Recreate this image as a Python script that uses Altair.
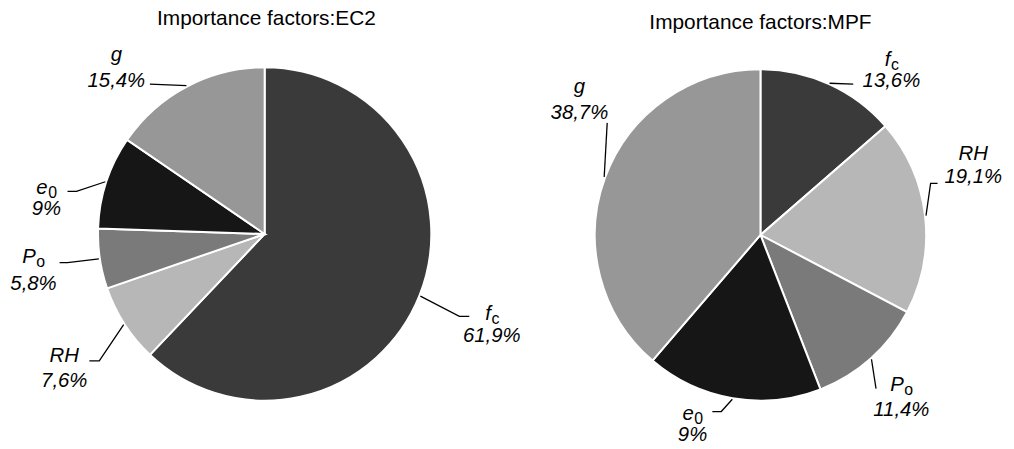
import math
import altair as alt
import pandas as pd

# ---------------- data ----------------
factors = ["fc", "RH", "Po", "e0", "g"]
symbol_main = ["f", "RH", "P", "e", "g"]
symbol_sub = ["c", "", "o", "0", ""]
ec2_values = [61.9, 7.6, 5.8, 9.0, 15.4]
mpf_values = [13.6, 19.1, 11.4, 17.2, 38.7]   # slice sizes as drawn
ec2_labels = ["61,9%", "7,6%", "5,8%", "9%", "15,4%"]
mpf_labels = ["13,6%", "19,1%", "11,4%", "9%", "38,7%"]
titles = ["Importance factors:EC2", "Importance factors:MPF"]
slice_colors = ["#3a3a3a", "#b7b7b7", "#7a7a7a", "#161616", "#979797"]

# ---------------- layout ----------------
W, H = 1006, 441
FONT = "Liberation Sans"
LABEL_SIZE = 20.5
SUB_SIZE = 16
TITLE_SIZE = 21
glyph_em = {"f": 0.30, "P": 0.667, "e": 0.556, "c": 0.5, "o": 0.556, "0": 0.556}

# per label: (label centre x, baseline line1, baseline line2, elbow, tail) relative to pie centre
pies = [
    dict(values=ec2_values, labels=ec2_labels, cx=258.7, cy=226.0, r=167, tx=260.5, ty=15.0,
         place={
             "fc": (229.0, 87.0, 108.7, (196.3, 83.0), (206.3, 83.0)),
             "RH": (-202.0, 129.0, 154.0, (-166.7, 128.0), (-176.7, 128.0)),
             "Po": (-233.0, 29.0, 56.0, (-198.7, 29.0), (-206.7, 29.0)),
             "e0": (-220.0, -40.7, -19.0, (-189.7, -43.0), (-198.7, -43.0)),
             "g": (-149.5, -174.7, -148.0, (-115.7, -151.0), (-115.7, -151.0)),
         }),
    dict(values=mpf_values, labels=mpf_labels, cx=758.5, cy=227.0, r=166, tx=758.5, ty=19.3,
         place={
             "fc": (132.0, -170.0, -149.0, (93.5, -152.0), (93.5, -152.0)),
             "RH": (214.5, -76.0, -52.0, (171.5, -52.0), (178.5, -52.0)),
             "Po": (142.0, 157.0, 182.0, (116.5, 155.0), (116.5, 155.0)),
             "e0": (-68.5, 187.0, 208.0, (-39.5, 178.0), (-48.5, 178.0)),
             "g": (-182.5, -143.4, -117.0, (-154.5, -113.0), (-154.5, -113.0)),
         }),
]

slice_rows, line_rows, pct_rows, sym_rows, title_rows = [], [], [], [], []
for p_i, pie in enumerate(pies):
    total = sum(pie["values"])
    acc = 0.0
    for f, v, lab, m, s in zip(factors, pie["values"], pie["labels"], symbol_main, symbol_sub):
        t0 = acc / total
        acc += v
        t1 = acc / total
        slice_rows.append(dict(pie=p_i, factor=f, t0=t0, t1=t1, x=pie["cx"], y=pie["cy"]))
        lcx, b1, b2, elbow, tail = pie["place"][f]
        mid = 2 * math.pi * (t0 + t1) / 2
        rs = pie["r"] + 2
        sx = pie["cx"] + rs * math.sin(mid)
        sy = pie["cy"] - rs * math.cos(mid)
        pts = [(sx, sy), (pie["cx"] + elbow[0], pie["cy"] + elbow[1]),
               (pie["cx"] + tail[0], pie["cy"] + tail[1])]
        for o, (px, py) in enumerate(pts):
            line_rows.append(dict(key=f"{p_i}-{f}", order=o, x=px, y=py))
        pct_rows.append(dict(text=lab, x=pie["cx"] + lcx, y=pie["cy"] + b2))
        if s:
            wm = glyph_em[m] * LABEL_SIZE
            ws = glyph_em[s] * SUB_SIZE
            xr = pie["cx"] + lcx + (wm - ws) / 2
            sym_rows.append(dict(kind="main", text=m, x=xr, y=pie["cy"] + b1))
            sym_rows.append(dict(kind="sub", text=s, x=xr + 0.5, y=pie["cy"] + b1 + 4))
        else:
            sym_rows.append(dict(kind="plain", text=m, x=pie["cx"] + lcx, y=pie["cy"] + b1))
    title_rows.append(dict(text=titles[p_i], x=pie["tx"], y=pie["ty"]))

slices = pd.DataFrame(slice_rows)
lines = pd.DataFrame(line_rows)
pcts = pd.DataFrame(pct_rows)
syms = pd.DataFrame(sym_rows)
title_df = pd.DataFrame(title_rows)

xs = alt.Scale(domain=[0, W], range=[0, W], nice=False, zero=False)
ys = alt.Scale(domain=[0, H], range=[0, H], nice=False, zero=False)
X = lambda: alt.X("x:Q", scale=xs, axis=None)
Y = lambda: alt.Y("y:Q", scale=ys, axis=None)

arc_layers = []
for p_i, pie in enumerate(pies):
    arc_layers.append(
        alt.Chart(slices[slices.pie == p_i])
        .mark_arc(outerRadius=pie["r"] + 1, stroke="white", strokeWidth=2)
        .encode(
            x=X(), y=Y(),
            theta=alt.Theta("t0:Q", scale=alt.Scale(domain=[0, 1], range=[0, 2 * math.pi]), stack=None),
            theta2=alt.Theta2("t1:Q"),
            color=alt.Color("factor:N", scale=alt.Scale(domain=factors, range=slice_colors), legend=None),
        )
    )

leaders = alt.Chart(lines).mark_line(color="black", strokeWidth=1.3).encode(
    x=X(), y=Y(), detail="key:N", order="order:Q"
)

pct_text = alt.Chart(pcts).mark_text(
    font=FONT, fontSize=LABEL_SIZE, fontStyle="italic", align="center", baseline="alphabetic", color="black"
).encode(x=X(), y=Y(), text="text:N")

plain_sym = alt.Chart(syms[syms.kind == "plain"]).mark_text(
    font=FONT, fontSize=LABEL_SIZE, fontStyle="italic", align="center", baseline="alphabetic", color="black"
).encode(x=X(), y=Y(), text="text:N")

main_sym = alt.Chart(syms[syms.kind == "main"]).mark_text(
    font=FONT, fontSize=LABEL_SIZE, fontStyle="italic", align="right", baseline="alphabetic", color="black"
).encode(x=X(), y=Y(), text="text:N")

sub_sym = alt.Chart(syms[syms.kind == "sub"]).mark_text(
    font=FONT, fontSize=SUB_SIZE, align="left", baseline="alphabetic", color="black"
).encode(x=X(), y=Y(), text="text:N")

title_text = alt.Chart(title_df).mark_text(
    font=FONT, fontSize=TITLE_SIZE, align="center", baseline="alphabetic", color="black"
).encode(x=X(), y=Y(), text="text:N")

chart = (
    alt.layer(*arc_layers, leaders, pct_text, plain_sym, main_sym, sub_sym, title_text)
    .properties(width=W, height=H, padding=0, autosize=alt.AutoSizeParams(type="none"))
    .configure_view(stroke=None)
)

chart.save("out.html", embed_options={"renderer": "svg", "actions": False})
